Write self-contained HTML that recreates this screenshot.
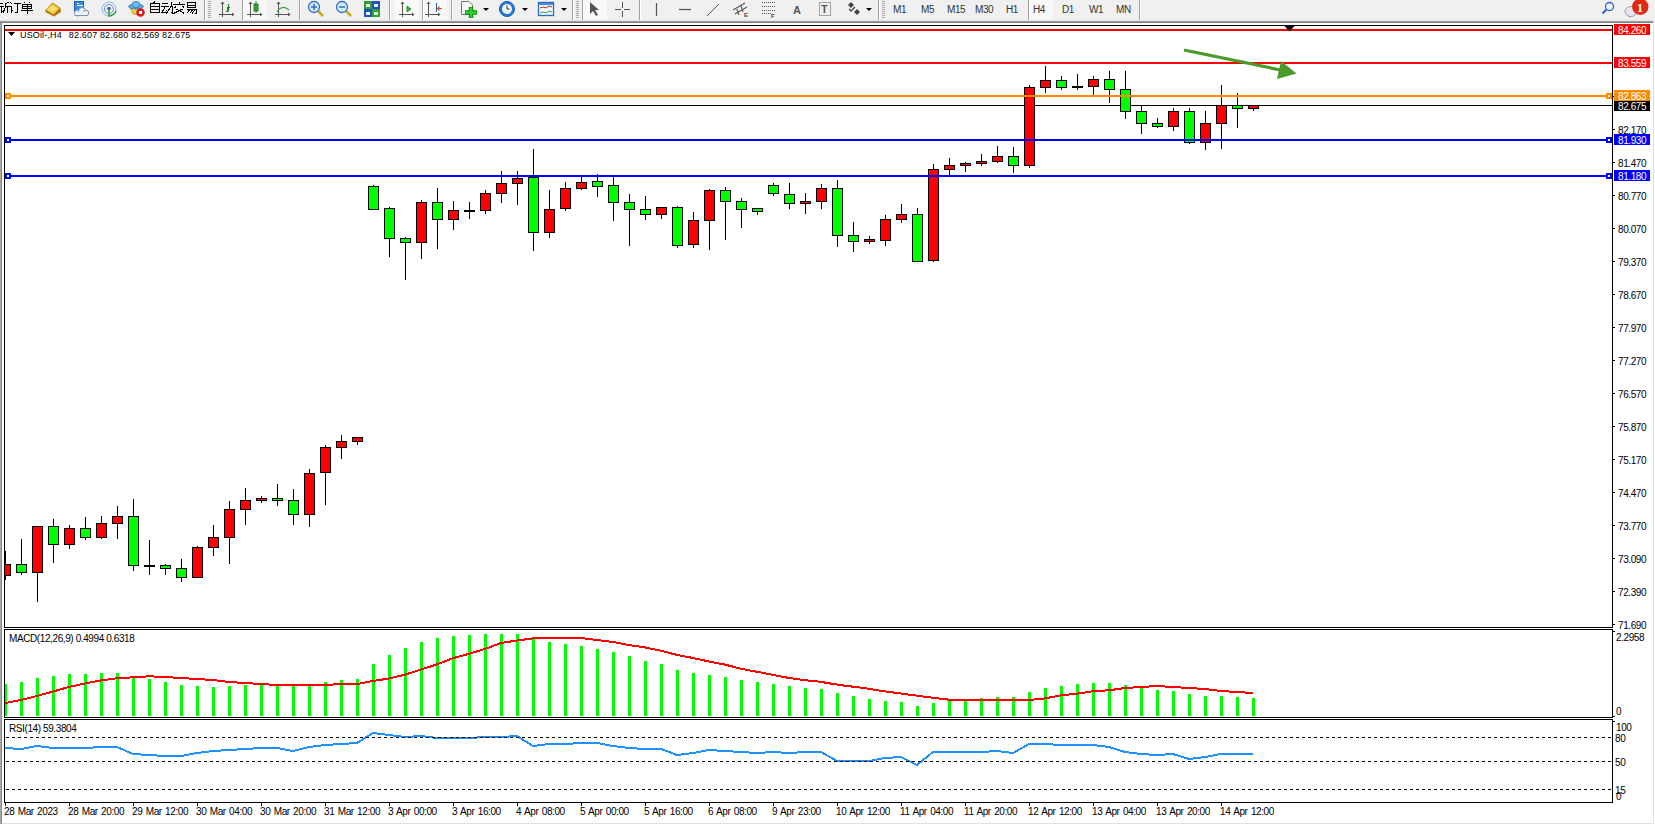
<!DOCTYPE html>
<html><head><meta charset="utf-8"><style>
html,body{margin:0;padding:0;width:1655px;height:825px;overflow:hidden;background:#fff;}
#tb{position:absolute;left:0;top:0;width:1655px;height:21px;background:#f0f0f0;}
svg{position:absolute;left:0;top:0;}
.t{position:absolute;white-space:nowrap;font-family:'Liberation Sans',sans-serif;line-height:11px;letter-spacing:-0.4px;}
</style></head><body>
<div id="tb"></div>
<svg width="1655" height="825" viewBox="0 0 1655 825">
<rect x="243" y="0" width="24" height="20" fill="#f8f8f8"/>
<rect x="394" y="0" width="25" height="20" fill="#f8f8f8"/>
<rect x="423" y="0" width="24" height="20" fill="#f8f8f8"/>
<rect x="583" y="0" width="24" height="20" fill="#f8f8f8"/>
<rect x="1029" y="0" width="24" height="20" fill="#f8f8f8"/>
<rect x="204" y="0" width="1" height="21" fill="#a0a0a0"/><rect x="205" y="0" width="1" height="20" fill="#ffffff"/>
<rect x="242" y="0" width="1" height="21" fill="#a0a0a0"/><rect x="243" y="0" width="1" height="20" fill="#ffffff"/>
<rect x="299" y="0" width="1" height="21" fill="#a0a0a0"/><rect x="300" y="0" width="1" height="20" fill="#ffffff"/>
<rect x="389" y="0" width="1" height="21" fill="#a0a0a0"/><rect x="390" y="0" width="1" height="20" fill="#ffffff"/>
<rect x="422" y="0" width="1" height="21" fill="#a0a0a0"/><rect x="423" y="0" width="1" height="20" fill="#ffffff"/>
<rect x="451" y="0" width="1" height="21" fill="#a0a0a0"/><rect x="452" y="0" width="1" height="20" fill="#ffffff"/>
<rect x="572" y="0" width="1" height="21" fill="#a0a0a0"/><rect x="573" y="0" width="1" height="20" fill="#ffffff"/>
<rect x="582" y="0" width="1" height="21" fill="#a0a0a0"/><rect x="583" y="0" width="1" height="20" fill="#ffffff"/>
<rect x="639" y="0" width="1" height="21" fill="#a0a0a0"/><rect x="640" y="0" width="1" height="20" fill="#ffffff"/>
<rect x="878" y="0" width="1" height="21" fill="#a0a0a0"/><rect x="879" y="0" width="1" height="20" fill="#ffffff"/>
<rect x="1028" y="0" width="1" height="21" fill="#a0a0a0"/><rect x="1029" y="0" width="1" height="20" fill="#ffffff"/>
<rect x="1139" y="0" width="1" height="21" fill="#a0a0a0"/><rect x="1140" y="0" width="1" height="20" fill="#ffffff"/>
<rect x="208" y="1" width="3" height="1" fill="#a8a8a8"/>
<rect x="208" y="3" width="3" height="1" fill="#a8a8a8"/>
<rect x="208" y="5" width="3" height="1" fill="#a8a8a8"/>
<rect x="208" y="7" width="3" height="1" fill="#a8a8a8"/>
<rect x="208" y="9" width="3" height="1" fill="#a8a8a8"/>
<rect x="208" y="11" width="3" height="1" fill="#a8a8a8"/>
<rect x="208" y="13" width="3" height="1" fill="#a8a8a8"/>
<rect x="208" y="15" width="3" height="1" fill="#a8a8a8"/>
<rect x="208" y="17" width="3" height="1" fill="#a8a8a8"/>
<rect x="576" y="1" width="3" height="1" fill="#a8a8a8"/>
<rect x="576" y="3" width="3" height="1" fill="#a8a8a8"/>
<rect x="576" y="5" width="3" height="1" fill="#a8a8a8"/>
<rect x="576" y="7" width="3" height="1" fill="#a8a8a8"/>
<rect x="576" y="9" width="3" height="1" fill="#a8a8a8"/>
<rect x="576" y="11" width="3" height="1" fill="#a8a8a8"/>
<rect x="576" y="13" width="3" height="1" fill="#a8a8a8"/>
<rect x="576" y="15" width="3" height="1" fill="#a8a8a8"/>
<rect x="576" y="17" width="3" height="1" fill="#a8a8a8"/>
<rect x="882" y="1" width="3" height="1" fill="#a8a8a8"/>
<rect x="882" y="3" width="3" height="1" fill="#a8a8a8"/>
<rect x="882" y="5" width="3" height="1" fill="#a8a8a8"/>
<rect x="882" y="7" width="3" height="1" fill="#a8a8a8"/>
<rect x="882" y="9" width="3" height="1" fill="#a8a8a8"/>
<rect x="882" y="11" width="3" height="1" fill="#a8a8a8"/>
<rect x="882" y="13" width="3" height="1" fill="#a8a8a8"/>
<rect x="882" y="15" width="3" height="1" fill="#a8a8a8"/>
<rect x="882" y="17" width="3" height="1" fill="#a8a8a8"/>

<!-- gold book -->
<polygon points="45,10.5 52.5,2.5 60.5,8 61,12 54,16.5 46,12.5" fill="#b07818"/>
<polygon points="46,10 52.5,3.5 59.5,8.5 53.5,14.5" fill="#f0cc40"/>
<polygon points="48,10 52.5,5.5 57,8.5 53,12" fill="#f8e070"/>
<!-- cloud doc -->
<rect x="74.5" y="1.5" width="9" height="10" fill="#3090e8" stroke="#1a60b0" stroke-width="1"/>
<rect x="77" y="5" width="6" height="1" fill="#fff"/><rect x="77" y="3" width="2" height="1" fill="#fff"/>
<g fill="#eef2fa" stroke="#8090b0" stroke-width="1">
<circle cx="77.5" cy="13" r="3"/><circle cx="82" cy="11" r="3.5"/><circle cx="86" cy="13" r="2.8"/>
</g>
<rect x="75" y="12" width="12" height="3" fill="#eef2fa"/>
<path d="M74.5,15.5 H87.5" stroke="#8090b0" stroke-width="1"/>
<!-- radar -->
<circle cx="109" cy="9" r="7" fill="none" stroke="#90b0e0" stroke-width="1"/>
<circle cx="109" cy="9" r="4.5" fill="none" stroke="#6090d8" stroke-width="1"/>
<circle cx="109" cy="8.5" r="1.8" fill="#3060c0"/>
<path d="M109,9 V16 Q114,15.5 116,11" fill="none" stroke="#30a030" stroke-width="1.5"/>
<!-- hat with stop -->
<path d="M130.5,8 L141.5,8 L139,15 L133,14 Z" fill="#f0d040" stroke="#c09020" stroke-width="0.8"/>
<ellipse cx="136" cy="6.5" rx="7.5" ry="2.5" fill="#60a8e0" stroke="#3a78b0" stroke-width="0.8"/>
<ellipse cx="136" cy="4.5" rx="4" ry="3" fill="#70b8f0" stroke="#3a78b0" stroke-width="0.8"/>
<circle cx="140.5" cy="12.5" r="4.3" fill="#d82020"/>
<rect x="139" y="11" width="3" height="3" fill="#fff"/>
<!-- bar chart icon -->
<g stroke="#555" stroke-width="1" fill="none" shape-rendering="crispEdges">
<path d="M222.5,3 V17 M219,14.5 H234"/>
<path d="M227.5,11.5 V7 H230"/>
</g>
<path d="M226,11.5 H228 M228.5,4 V11.5" stroke="#1a8a1a" stroke-width="1.2" fill="none"/>
<!-- candle icon -->
<g stroke="#555" stroke-width="1" fill="none" shape-rendering="crispEdges">
<path d="M250.5,3 V17 M247,14.5 H262"/>
</g>
<rect x="254" y="4" width="4" height="7" fill="#30c030" stroke="#208020" stroke-width="1"/>
<path d="M256,1 V13" stroke="#208020" stroke-width="1"/>
<!-- line chart icon -->
<g stroke="#555" stroke-width="1" fill="none" shape-rendering="crispEdges">
<path d="M278.5,3 V17 M275,14.5 H290"/>
</g>
<path d="M277,12 Q282,4 289,10" stroke="#30a030" stroke-width="1.2" fill="none"/>
<!-- zoom in -->
<line x1="318" y1="11" x2="323" y2="16" stroke="#c8a820" stroke-width="2.5"/>
<circle cx="314" cy="7" r="5.5" fill="#d8ecfa" stroke="#2a6ac8" stroke-width="1.3"/>
<path d="M311,7 H317 M314,4 V10" stroke="#2a6ac8" stroke-width="1.5"/>
<!-- zoom out -->
<line x1="346" y1="11" x2="351" y2="16" stroke="#c8a820" stroke-width="2.5"/>
<circle cx="342" cy="7" r="5.5" fill="#d8ecfa" stroke="#2a6ac8" stroke-width="1.3"/>
<path d="M339,7 H345" stroke="#2a6ac8" stroke-width="1.5"/>
<!-- tile -->
<rect x="364" y="1" width="8" height="8" fill="#30a030"/><rect x="372" y="1" width="8" height="8" fill="#2050c0"/>
<rect x="364" y="9" width="8" height="8" fill="#2050c0"/><rect x="372" y="9" width="8" height="8" fill="#30a030"/>
<g fill="#e8f0e8"><rect x="366" y="4" width="4" height="3"/><rect x="374" y="4" width="4" height="3"/><rect x="366" y="12" width="4" height="3"/><rect x="374" y="12" width="4" height="3"/></g>
<g fill="#555">
<polygon points="220.5,4 222.5,1.5 224.5,4"/><polygon points="232,12.5 234.5,14.5 232,16.5"/>
<polygon points="248.5,4 250.5,1.5 252.5,4"/><polygon points="260,12.5 262.5,14.5 260,16.5"/>
<polygon points="276.5,4 278.5,1.5 280.5,4"/><polygon points="288,12.5 290.5,14.5 288,16.5"/>
<polygon points="400.5,4 402.5,1.5 404.5,4"/><polygon points="412,12.5 414.5,14.5 412,16.5"/>
<polygon points="426.5,4 428.5,1.5 430.5,4"/><polygon points="438,12.5 440.5,14.5 438,16.5"/>
</g>
<!-- autoscroll -->
<g stroke="#555" stroke-width="1" fill="none" shape-rendering="crispEdges">
<path d="M402.5,3 V17 M399,14.5 H414"/>
<path d="M428.5,3 V17 M425,14.5 H440"/>
</g>
<polygon points="407,6 411,9 407,12" fill="#30b030" stroke="#1a8a1a" stroke-width="0.8"/>
<path d="M436.5,3 V12" stroke="#2060b0" stroke-width="1"/>
<path d="M442,8.5 H438 M439.5,6.5 L437.5,8.5 L439.5,10.5" stroke="#e05010" stroke-width="1.2" fill="none"/>
<!-- template + plus -->
<path d="M461.5,1.5 H469 L472.5,5 V14.5 H461.5 Z" fill="#f8f8f8" stroke="#777" stroke-width="1"/>
<path d="M465,12.5 H477 M471,7 V18" stroke="#108010" stroke-width="4.5"/>
<path d="M465.5,12.5 H476.5 M471,7.5 V17.5" stroke="#30d030" stroke-width="2.5"/>
<polygon points="483,8 489,8 486,11" fill="#000"/>
<!-- clock -->
<circle cx="507" cy="9" r="7.5" fill="#2a7ad8" stroke="#1a5ab0" stroke-width="1"/>
<circle cx="507" cy="9" r="5" fill="#f4f8ff"/>
<path d="M507,5.5 V9 H509.5" stroke="#333" stroke-width="1" fill="none"/>
<polygon points="522,8 528,8 525,11" fill="#000"/>
<!-- indicators window -->
<rect x="538.5" y="2.5" width="15" height="13" fill="#f4f8ff" stroke="#2a6ac8" stroke-width="1.3"/>
<rect x="539" y="3" width="14" height="2" fill="#4a8ae0"/>
<path d="M540,8 L543,7 L546,8 L549,6 L552,7" stroke="#b03020" stroke-width="1" fill="none"/>
<path d="M540,13 L543,12 L546,13 L549,11 L552,12" stroke="#30a030" stroke-width="1" fill="none"/>
<polygon points="561,8 567,8 564,11" fill="#000"/>
<!-- cursor -->
<polygon points="590,2 590,14 593,11 596,16 598,15 595,10 599,10" fill="#555"/>
<!-- crosshair -->
<path d="M622.5,2 V17 M615,9.5 H630" stroke="#555" stroke-width="1" shape-rendering="crispEdges"/>
<rect x="621" y="8" width="3" height="3" fill="#f0f0f0"/>
<!-- vertical line -->
<path d="M656.5,3 V16" stroke="#555" stroke-width="1.2"/>
<!-- horizontal line -->
<path d="M679,9.5 H691" stroke="#555" stroke-width="1.2"/>
<!-- trendline -->
<path d="M707,16 L719,4" stroke="#555" stroke-width="1"/>
<!-- channel -->
<path d="M733,10 L745,3 M735,14 L747,7 M737,9 L739,15 M741,6 L743,12" stroke="#555" stroke-width="1.1" fill="none"/>
<text x="744" y="17" font-size="6" font-family="Liberation Sans" font-weight="bold" fill="#444">E</text>
<!-- fibo -->
<g fill="#555"><rect x="762" y="2" width="13" height="1"/><rect x="762" y="6" width="13" height="1"/><rect x="762" y="10" width="13" height="1"/><rect x="762" y="13" width="9" height="1"/></g>
<g fill="#f0f0f0"><rect x="763" y="2" width="1" height="12"/><rect x="765" y="2" width="1" height="12"/><rect x="767" y="2" width="1" height="12"/><rect x="769" y="2" width="1" height="12"/><rect x="771" y="2" width="1" height="12"/><rect x="773" y="2" width="1" height="12"/></g>
<text x="771" y="18" font-size="6" font-family="Liberation Sans" font-weight="bold" fill="#444">F</text>
<!-- A -->
<text x="793" y="14" font-size="11" font-family="Liberation Sans" font-weight="bold" fill="#555">A</text>
<!-- T label -->
<rect x="819.5" y="2.5" width="11" height="13" fill="none" stroke="#555" stroke-width="1" stroke-dasharray="1,1"/>
<text x="821" y="13" font-size="11" font-family="Liberation Sans" font-weight="bold" fill="#555">T</text>
<!-- arrows -->
<polygon points="848,5 851,2 854,5 851,8" fill="#444"/>
<path d="M849,9 L851,11 L855,7" stroke="#444" stroke-width="1.3" fill="none"/>
<polygon points="854,12 857,9 860,12 857,15" fill="#444"/>
<polygon points="866,8 872,8 869,11" fill="#000"/>
<!-- search -->
<circle cx="1609.5" cy="6.5" r="4" fill="#f4f6ff" stroke="#2a60d0" stroke-width="1.3"/>
<line x1="1606.5" y1="9.5" x2="1602.5" y2="13.5" stroke="#2a60d0" stroke-width="2"/>
<!-- chat + badge -->
<ellipse cx="1631" cy="11.5" rx="6" ry="5" fill="#e4e4ec" stroke="#a0a0a0" stroke-width="1"/>
<path d="M1629,16 L1629,18 L1632,16" fill="#a0a0a0"/>
<circle cx="1640.3" cy="6.7" r="8.2" fill="#e02a10"/>
<text x="1637" y="11.5" font-size="12" font-family="Liberation Serif" font-weight="bold" fill="#fff">1</text>


<g stroke="#000" stroke-width="1" fill="none" shape-rendering="crispEdges">
<!-- xin (clipped) -->
<path d="M0,3.5 H3 M0,6.5 H3.5 M1.5,6.5 V13 M4.5,9 L2.5,12"/>
<path d="M9,2 L5,4 V8 L3,13 M5,6.5 H10 M7.5,6.5 V13"/>
<!-- ding -->
<path d="M10.5,2 L11.5,4 M9,6.5 H11.5 V12 L13,10"/>
<path d="M13.5,3.5 H21 M17.5,3.5 V12.5 H14.5"/>
<!-- dan -->
<path d="M24,2 L25,3 M30,2 L29,3"/>
<path d="M22.5,4.5 H31.5 V8.5 H22.5 Z M22.5,6.5 H31.5 M21,10.5 H33 M27,4 V13.5"/>
<!-- zi -->
<path d="M154.5,1.5 L153.5,3.5 M150.5,3.5 H159.5 V12.5 H150.5 Z M150.5,6.5 H159.5 M150.5,9.5 H159.5"/>
<!-- dong -->
<path d="M162,3.5 H168 M161,6.5 H169 M165,7 L162,12.5 H168 M166.5,10 L168,12.5"/>
<path d="M169.5,6.5 H172.5 V13 L171.5,12.5 M171,2 V7 L166,13.5"/>
<!-- jiao -->
<path d="M179.5,1.5 V3.5 M173,4.5 H185 M176,6 L174.5,8.5 M182.5,6 L184.5,8.5 M176,9 L184.5,13.5 M182.5,9 L173.5,13.5"/>
<!-- yi -->
<path d="M187.5,2.5 H195.5 V7.5 H187.5 Z M187.5,5 H195.5 M187,9.5 H196 V13.5 H195 M189.5,10 L187,13 M192.5,10 L189.5,13.5 M195,10 L192,13.5"/>
</g>

<rect x="0" y="21" width="1655" height="804" fill="#ffffff"/>
<rect x="0" y="20" width="1654" height="1" fill="#e2e2e2"/>
<rect x="0" y="21" width="1653" height="1" fill="#a4a4a4"/><rect x="1653" y="21" width="2" height="2" fill="#f0f0f0"/>
<rect x="0" y="22" width="1653" height="1" fill="#7a7a7a"/>
<rect x="0" y="23" width="1" height="801" fill="#a8a8a8"/>
<rect x="1" y="23" width="1" height="801" fill="#888888"/>
<rect x="1653" y="23" width="1" height="801" fill="#e0e0e0"/>
<rect x="2" y="823" width="1652" height="1" fill="#e0e0e0"/>
<defs><clipPath id="cm"><rect x="5" y="26" width="1607" height="601"/></clipPath><clipPath id="cmacd"><rect x="5" y="630" width="1607" height="87"/></clipPath><clipPath id="crsi"><rect x="5" y="720" width="1607" height="82"/></clipPath></defs>
<g shape-rendering="crispEdges" fill="#000">
<rect x="4" y="25" width="1609" height="1"/>
<rect x="4" y="25" width="1" height="603"/>
<rect x="1612" y="25" width="1" height="603"/>
<rect x="4" y="627" width="1609" height="1"/>
<rect x="4" y="629" width="1609" height="1"/>
<rect x="4" y="629" width="1" height="89"/>
<rect x="1612" y="629" width="1" height="89"/>
<rect x="4" y="717" width="1609" height="1"/>
<rect x="4" y="719" width="1609" height="1"/>
<rect x="4" y="719" width="1" height="84"/>
<rect x="1612" y="719" width="1" height="84"/>
<rect x="4" y="802" width="1609" height="1"/>
</g>
<rect x="5" y="105" width="1607" height="1" fill="#000" shape-rendering="crispEdges"/>
<g clip-path="url(#cm)" shape-rendering="crispEdges">
<rect x="5" y="551" width="1" height="13" fill="#000"/>
<rect x="5" y="576" width="1" height="4" fill="#000"/>
<rect x="0" y="564" width="11" height="12" fill="#000"/>
<rect x="1" y="565" width="9" height="10" fill="#ff0000"/>
<rect x="21" y="539" width="1" height="25" fill="#000"/>
<rect x="21" y="573" width="1" height="2" fill="#000"/>
<rect x="16" y="564" width="11" height="9" fill="#000"/>
<rect x="17" y="565" width="9" height="7" fill="#00ff00"/>
<rect x="37" y="573" width="1" height="29" fill="#000"/>
<rect x="32" y="526" width="11" height="47" fill="#000"/>
<rect x="33" y="527" width="9" height="45" fill="#ff0000"/>
<rect x="53" y="519" width="1" height="7" fill="#000"/>
<rect x="53" y="545" width="1" height="18" fill="#000"/>
<rect x="48" y="526" width="11" height="19" fill="#000"/>
<rect x="49" y="527" width="9" height="17" fill="#00ff00"/>
<rect x="69" y="525" width="1" height="3" fill="#000"/>
<rect x="69" y="545" width="1" height="4" fill="#000"/>
<rect x="64" y="528" width="11" height="17" fill="#000"/>
<rect x="65" y="529" width="9" height="15" fill="#ff0000"/>
<rect x="85" y="517" width="1" height="11" fill="#000"/>
<rect x="85" y="538" width="1" height="2" fill="#000"/>
<rect x="80" y="528" width="11" height="10" fill="#000"/>
<rect x="81" y="529" width="9" height="8" fill="#00ff00"/>
<rect x="101" y="516" width="1" height="7" fill="#000"/>
<rect x="101" y="538" width="1" height="1" fill="#000"/>
<rect x="96" y="523" width="11" height="15" fill="#000"/>
<rect x="97" y="524" width="9" height="13" fill="#ff0000"/>
<rect x="117" y="506" width="1" height="10" fill="#000"/>
<rect x="117" y="524" width="1" height="15" fill="#000"/>
<rect x="112" y="516" width="11" height="8" fill="#000"/>
<rect x="113" y="517" width="9" height="6" fill="#ff0000"/>
<rect x="133" y="499" width="1" height="17" fill="#000"/>
<rect x="133" y="566" width="1" height="5" fill="#000"/>
<rect x="128" y="516" width="11" height="50" fill="#000"/>
<rect x="129" y="517" width="9" height="48" fill="#00ff00"/>
<rect x="149" y="540" width="1" height="25" fill="#000"/>
<rect x="149" y="567" width="1" height="8" fill="#000"/>
<rect x="144" y="565" width="11" height="2" fill="#000"/>
<rect x="165" y="564" width="1" height="1" fill="#000"/>
<rect x="165" y="569" width="1" height="6" fill="#000"/>
<rect x="160" y="565" width="11" height="4" fill="#000"/>
<rect x="161" y="566" width="9" height="2" fill="#00ff00"/>
<rect x="181" y="559" width="1" height="9" fill="#000"/>
<rect x="181" y="578" width="1" height="4" fill="#000"/>
<rect x="176" y="568" width="11" height="10" fill="#000"/>
<rect x="177" y="569" width="9" height="8" fill="#00ff00"/>
<rect x="197" y="546" width="1" height="1" fill="#000"/>
<rect x="192" y="547" width="11" height="31" fill="#000"/>
<rect x="193" y="548" width="9" height="29" fill="#ff0000"/>
<rect x="213" y="525" width="1" height="12" fill="#000"/>
<rect x="213" y="548" width="1" height="8" fill="#000"/>
<rect x="208" y="537" width="11" height="11" fill="#000"/>
<rect x="209" y="538" width="9" height="9" fill="#ff0000"/>
<rect x="229" y="501" width="1" height="8" fill="#000"/>
<rect x="229" y="538" width="1" height="26" fill="#000"/>
<rect x="224" y="509" width="11" height="29" fill="#000"/>
<rect x="225" y="510" width="9" height="27" fill="#ff0000"/>
<rect x="245" y="488" width="1" height="12" fill="#000"/>
<rect x="245" y="510" width="1" height="15" fill="#000"/>
<rect x="240" y="500" width="11" height="10" fill="#000"/>
<rect x="241" y="501" width="9" height="8" fill="#ff0000"/>
<rect x="261" y="496" width="1" height="2" fill="#000"/>
<rect x="261" y="501" width="1" height="2" fill="#000"/>
<rect x="256" y="498" width="11" height="3" fill="#000"/>
<rect x="257" y="499" width="9" height="1" fill="#ff0000"/>
<rect x="277" y="484" width="1" height="14" fill="#000"/>
<rect x="277" y="501" width="1" height="5" fill="#000"/>
<rect x="272" y="498" width="11" height="3" fill="#000"/>
<rect x="273" y="499" width="9" height="1" fill="#00ff00"/>
<rect x="293" y="489" width="1" height="11" fill="#000"/>
<rect x="293" y="515" width="1" height="10" fill="#000"/>
<rect x="288" y="500" width="11" height="15" fill="#000"/>
<rect x="289" y="501" width="9" height="13" fill="#00ff00"/>
<rect x="309" y="469" width="1" height="4" fill="#000"/>
<rect x="309" y="515" width="1" height="12" fill="#000"/>
<rect x="304" y="473" width="11" height="42" fill="#000"/>
<rect x="305" y="474" width="9" height="40" fill="#ff0000"/>
<rect x="325" y="445" width="1" height="2" fill="#000"/>
<rect x="325" y="473" width="1" height="32" fill="#000"/>
<rect x="320" y="447" width="11" height="26" fill="#000"/>
<rect x="321" y="448" width="9" height="24" fill="#ff0000"/>
<rect x="341" y="435" width="1" height="6" fill="#000"/>
<rect x="341" y="448" width="1" height="11" fill="#000"/>
<rect x="336" y="441" width="11" height="7" fill="#000"/>
<rect x="337" y="442" width="9" height="5" fill="#ff0000"/>
<rect x="357" y="442" width="1" height="3" fill="#000"/>
<rect x="352" y="437" width="11" height="5" fill="#000"/>
<rect x="353" y="438" width="9" height="3" fill="#ff0000"/>
<rect x="373" y="185" width="1" height="1" fill="#000"/>
<rect x="368" y="186" width="11" height="24" fill="#000"/>
<rect x="369" y="187" width="9" height="22" fill="#00ff00"/>
<rect x="389" y="207" width="1" height="1" fill="#000"/>
<rect x="389" y="239" width="1" height="18" fill="#000"/>
<rect x="384" y="208" width="11" height="31" fill="#000"/>
<rect x="385" y="209" width="9" height="29" fill="#00ff00"/>
<rect x="405" y="237" width="1" height="1" fill="#000"/>
<rect x="405" y="243" width="1" height="37" fill="#000"/>
<rect x="400" y="238" width="11" height="5" fill="#000"/>
<rect x="401" y="239" width="9" height="3" fill="#00ff00"/>
<rect x="421" y="200" width="1" height="2" fill="#000"/>
<rect x="421" y="243" width="1" height="16" fill="#000"/>
<rect x="416" y="202" width="11" height="41" fill="#000"/>
<rect x="417" y="203" width="9" height="39" fill="#ff0000"/>
<rect x="437" y="188" width="1" height="14" fill="#000"/>
<rect x="437" y="220" width="1" height="29" fill="#000"/>
<rect x="432" y="202" width="11" height="18" fill="#000"/>
<rect x="433" y="203" width="9" height="16" fill="#00ff00"/>
<rect x="453" y="201" width="1" height="9" fill="#000"/>
<rect x="453" y="220" width="1" height="10" fill="#000"/>
<rect x="448" y="210" width="11" height="10" fill="#000"/>
<rect x="449" y="211" width="9" height="8" fill="#ff0000"/>
<rect x="469" y="202" width="1" height="8" fill="#000"/>
<rect x="469" y="212" width="1" height="7" fill="#000"/>
<rect x="464" y="210" width="11" height="2" fill="#000"/>
<rect x="485" y="190" width="1" height="3" fill="#000"/>
<rect x="485" y="211" width="1" height="3" fill="#000"/>
<rect x="480" y="193" width="11" height="18" fill="#000"/>
<rect x="481" y="194" width="9" height="16" fill="#ff0000"/>
<rect x="501" y="171" width="1" height="12" fill="#000"/>
<rect x="501" y="194" width="1" height="9" fill="#000"/>
<rect x="496" y="183" width="11" height="11" fill="#000"/>
<rect x="497" y="184" width="9" height="9" fill="#ff0000"/>
<rect x="517" y="171" width="1" height="7" fill="#000"/>
<rect x="517" y="184" width="1" height="21" fill="#000"/>
<rect x="512" y="178" width="11" height="6" fill="#000"/>
<rect x="513" y="179" width="9" height="4" fill="#ff0000"/>
<rect x="533" y="149" width="1" height="28" fill="#000"/>
<rect x="533" y="233" width="1" height="18" fill="#000"/>
<rect x="528" y="177" width="11" height="56" fill="#000"/>
<rect x="529" y="178" width="9" height="54" fill="#00ff00"/>
<rect x="549" y="190" width="1" height="19" fill="#000"/>
<rect x="549" y="233" width="1" height="5" fill="#000"/>
<rect x="544" y="209" width="11" height="24" fill="#000"/>
<rect x="545" y="210" width="9" height="22" fill="#ff0000"/>
<rect x="565" y="182" width="1" height="6" fill="#000"/>
<rect x="565" y="209" width="1" height="2" fill="#000"/>
<rect x="560" y="188" width="11" height="21" fill="#000"/>
<rect x="561" y="189" width="9" height="19" fill="#ff0000"/>
<rect x="581" y="177" width="1" height="5" fill="#000"/>
<rect x="581" y="189" width="1" height="1" fill="#000"/>
<rect x="576" y="182" width="11" height="7" fill="#000"/>
<rect x="577" y="183" width="9" height="5" fill="#ff0000"/>
<rect x="597" y="174" width="1" height="7" fill="#000"/>
<rect x="597" y="187" width="1" height="10" fill="#000"/>
<rect x="592" y="181" width="11" height="6" fill="#000"/>
<rect x="593" y="182" width="9" height="4" fill="#00ff00"/>
<rect x="613" y="177" width="1" height="8" fill="#000"/>
<rect x="613" y="203" width="1" height="18" fill="#000"/>
<rect x="608" y="185" width="11" height="18" fill="#000"/>
<rect x="609" y="186" width="9" height="16" fill="#00ff00"/>
<rect x="629" y="194" width="1" height="8" fill="#000"/>
<rect x="629" y="210" width="1" height="36" fill="#000"/>
<rect x="624" y="202" width="11" height="8" fill="#000"/>
<rect x="625" y="203" width="9" height="6" fill="#00ff00"/>
<rect x="645" y="196" width="1" height="13" fill="#000"/>
<rect x="645" y="215" width="1" height="5" fill="#000"/>
<rect x="640" y="209" width="11" height="6" fill="#000"/>
<rect x="641" y="210" width="9" height="4" fill="#00ff00"/>
<rect x="661" y="215" width="1" height="4" fill="#000"/>
<rect x="656" y="207" width="11" height="8" fill="#000"/>
<rect x="657" y="208" width="9" height="6" fill="#ff0000"/>
<rect x="677" y="206" width="1" height="1" fill="#000"/>
<rect x="677" y="246" width="1" height="2" fill="#000"/>
<rect x="672" y="207" width="11" height="39" fill="#000"/>
<rect x="673" y="208" width="9" height="37" fill="#00ff00"/>
<rect x="693" y="212" width="1" height="8" fill="#000"/>
<rect x="693" y="245" width="1" height="3" fill="#000"/>
<rect x="688" y="220" width="11" height="25" fill="#000"/>
<rect x="689" y="221" width="9" height="23" fill="#ff0000"/>
<rect x="709" y="189" width="1" height="1" fill="#000"/>
<rect x="709" y="221" width="1" height="29" fill="#000"/>
<rect x="704" y="190" width="11" height="31" fill="#000"/>
<rect x="705" y="191" width="9" height="29" fill="#ff0000"/>
<rect x="725" y="187" width="1" height="3" fill="#000"/>
<rect x="725" y="202" width="1" height="38" fill="#000"/>
<rect x="720" y="190" width="11" height="12" fill="#000"/>
<rect x="721" y="191" width="9" height="10" fill="#00ff00"/>
<rect x="741" y="198" width="1" height="3" fill="#000"/>
<rect x="741" y="210" width="1" height="18" fill="#000"/>
<rect x="736" y="201" width="11" height="9" fill="#000"/>
<rect x="737" y="202" width="9" height="7" fill="#00ff00"/>
<rect x="757" y="212" width="1" height="3" fill="#000"/>
<rect x="752" y="208" width="11" height="4" fill="#000"/>
<rect x="753" y="209" width="9" height="2" fill="#00ff00"/>
<rect x="773" y="183" width="1" height="2" fill="#000"/>
<rect x="773" y="194" width="1" height="2" fill="#000"/>
<rect x="768" y="185" width="11" height="9" fill="#000"/>
<rect x="769" y="186" width="9" height="7" fill="#00ff00"/>
<rect x="789" y="183" width="1" height="11" fill="#000"/>
<rect x="789" y="204" width="1" height="5" fill="#000"/>
<rect x="784" y="194" width="11" height="10" fill="#000"/>
<rect x="785" y="195" width="9" height="8" fill="#00ff00"/>
<rect x="805" y="193" width="1" height="8" fill="#000"/>
<rect x="805" y="204" width="1" height="10" fill="#000"/>
<rect x="800" y="201" width="11" height="3" fill="#000"/>
<rect x="801" y="202" width="9" height="1" fill="#ff0000"/>
<rect x="821" y="184" width="1" height="4" fill="#000"/>
<rect x="821" y="202" width="1" height="7" fill="#000"/>
<rect x="816" y="188" width="11" height="14" fill="#000"/>
<rect x="817" y="189" width="9" height="12" fill="#ff0000"/>
<rect x="837" y="180" width="1" height="8" fill="#000"/>
<rect x="837" y="236" width="1" height="11" fill="#000"/>
<rect x="832" y="188" width="11" height="48" fill="#000"/>
<rect x="833" y="189" width="9" height="46" fill="#00ff00"/>
<rect x="853" y="222" width="1" height="13" fill="#000"/>
<rect x="853" y="242" width="1" height="10" fill="#000"/>
<rect x="848" y="235" width="11" height="7" fill="#000"/>
<rect x="849" y="236" width="9" height="5" fill="#00ff00"/>
<rect x="869" y="236" width="1" height="3" fill="#000"/>
<rect x="869" y="242" width="1" height="2" fill="#000"/>
<rect x="864" y="239" width="11" height="3" fill="#000"/>
<rect x="865" y="240" width="9" height="1" fill="#ff0000"/>
<rect x="885" y="215" width="1" height="4" fill="#000"/>
<rect x="885" y="241" width="1" height="5" fill="#000"/>
<rect x="880" y="219" width="11" height="22" fill="#000"/>
<rect x="881" y="220" width="9" height="20" fill="#ff0000"/>
<rect x="901" y="204" width="1" height="10" fill="#000"/>
<rect x="901" y="220" width="1" height="3" fill="#000"/>
<rect x="896" y="214" width="11" height="6" fill="#000"/>
<rect x="897" y="215" width="9" height="4" fill="#ff0000"/>
<rect x="917" y="208" width="1" height="6" fill="#000"/>
<rect x="912" y="214" width="11" height="48" fill="#000"/>
<rect x="913" y="215" width="9" height="46" fill="#00ff00"/>
<rect x="933" y="164" width="1" height="5" fill="#000"/>
<rect x="933" y="261" width="1" height="1" fill="#000"/>
<rect x="928" y="169" width="11" height="92" fill="#000"/>
<rect x="929" y="170" width="9" height="90" fill="#ff0000"/>
<rect x="949" y="158" width="1" height="7" fill="#000"/>
<rect x="949" y="170" width="1" height="6" fill="#000"/>
<rect x="944" y="165" width="11" height="5" fill="#000"/>
<rect x="945" y="166" width="9" height="3" fill="#ff0000"/>
<rect x="965" y="162" width="1" height="1" fill="#000"/>
<rect x="965" y="166" width="1" height="6" fill="#000"/>
<rect x="960" y="163" width="11" height="3" fill="#000"/>
<rect x="961" y="164" width="9" height="1" fill="#ff0000"/>
<rect x="981" y="154" width="1" height="7" fill="#000"/>
<rect x="981" y="164" width="1" height="2" fill="#000"/>
<rect x="976" y="161" width="11" height="3" fill="#000"/>
<rect x="977" y="162" width="9" height="1" fill="#ff0000"/>
<rect x="997" y="146" width="1" height="10" fill="#000"/>
<rect x="997" y="162" width="1" height="1" fill="#000"/>
<rect x="992" y="156" width="11" height="6" fill="#000"/>
<rect x="993" y="157" width="9" height="4" fill="#ff0000"/>
<rect x="1013" y="147" width="1" height="9" fill="#000"/>
<rect x="1013" y="166" width="1" height="7" fill="#000"/>
<rect x="1008" y="156" width="11" height="10" fill="#000"/>
<rect x="1009" y="157" width="9" height="8" fill="#00ff00"/>
<rect x="1029" y="85" width="1" height="2" fill="#000"/>
<rect x="1029" y="166" width="1" height="2" fill="#000"/>
<rect x="1024" y="87" width="11" height="79" fill="#000"/>
<rect x="1025" y="88" width="9" height="77" fill="#ff0000"/>
<rect x="1045" y="66" width="1" height="14" fill="#000"/>
<rect x="1045" y="88" width="1" height="5" fill="#000"/>
<rect x="1040" y="80" width="11" height="8" fill="#000"/>
<rect x="1041" y="81" width="9" height="6" fill="#ff0000"/>
<rect x="1061" y="76" width="1" height="4" fill="#000"/>
<rect x="1061" y="88" width="1" height="2" fill="#000"/>
<rect x="1056" y="80" width="11" height="8" fill="#000"/>
<rect x="1057" y="81" width="9" height="6" fill="#00ff00"/>
<rect x="1077" y="74" width="1" height="12" fill="#000"/>
<rect x="1077" y="88" width="1" height="2" fill="#000"/>
<rect x="1072" y="86" width="11" height="2" fill="#000"/>
<rect x="1093" y="76" width="1" height="3" fill="#000"/>
<rect x="1093" y="87" width="1" height="8" fill="#000"/>
<rect x="1088" y="79" width="11" height="8" fill="#000"/>
<rect x="1089" y="80" width="9" height="6" fill="#ff0000"/>
<rect x="1109" y="71" width="1" height="8" fill="#000"/>
<rect x="1109" y="90" width="1" height="13" fill="#000"/>
<rect x="1104" y="79" width="11" height="11" fill="#000"/>
<rect x="1105" y="80" width="9" height="9" fill="#00ff00"/>
<rect x="1125" y="71" width="1" height="18" fill="#000"/>
<rect x="1125" y="112" width="1" height="7" fill="#000"/>
<rect x="1120" y="89" width="11" height="23" fill="#000"/>
<rect x="1121" y="90" width="9" height="21" fill="#00ff00"/>
<rect x="1141" y="105" width="1" height="6" fill="#000"/>
<rect x="1141" y="124" width="1" height="10" fill="#000"/>
<rect x="1136" y="111" width="11" height="13" fill="#000"/>
<rect x="1137" y="112" width="9" height="11" fill="#00ff00"/>
<rect x="1157" y="118" width="1" height="5" fill="#000"/>
<rect x="1157" y="127" width="1" height="1" fill="#000"/>
<rect x="1152" y="123" width="11" height="4" fill="#000"/>
<rect x="1153" y="124" width="9" height="2" fill="#00ff00"/>
<rect x="1173" y="108" width="1" height="3" fill="#000"/>
<rect x="1173" y="127" width="1" height="4" fill="#000"/>
<rect x="1168" y="111" width="11" height="16" fill="#000"/>
<rect x="1169" y="112" width="9" height="14" fill="#ff0000"/>
<rect x="1189" y="108" width="1" height="3" fill="#000"/>
<rect x="1189" y="143" width="1" height="1" fill="#000"/>
<rect x="1184" y="111" width="11" height="32" fill="#000"/>
<rect x="1185" y="112" width="9" height="30" fill="#00ff00"/>
<rect x="1205" y="111" width="1" height="12" fill="#000"/>
<rect x="1205" y="143" width="1" height="7" fill="#000"/>
<rect x="1200" y="123" width="11" height="20" fill="#000"/>
<rect x="1201" y="124" width="9" height="18" fill="#ff0000"/>
<rect x="1221" y="85" width="1" height="20" fill="#000"/>
<rect x="1221" y="124" width="1" height="25" fill="#000"/>
<rect x="1216" y="105" width="11" height="19" fill="#000"/>
<rect x="1217" y="106" width="9" height="17" fill="#ff0000"/>
<rect x="1237" y="93" width="1" height="12" fill="#000"/>
<rect x="1237" y="109" width="1" height="19" fill="#000"/>
<rect x="1232" y="105" width="11" height="4" fill="#000"/>
<rect x="1233" y="106" width="9" height="2" fill="#00ff00"/>
<rect x="1253" y="109" width="1" height="2" fill="#000"/>
<rect x="1248" y="105" width="11" height="4" fill="#000"/>
<rect x="1249" y="106" width="9" height="2" fill="#ff0000"/>
</g>
<g clip-path="url(#cm)" shape-rendering="crispEdges">
<rect x="5" y="29" width="1607" height="2" fill="#ff0000"/>
<rect x="5" y="62" width="1607" height="2" fill="#ff0000"/>
<rect x="5" y="95" width="1607" height="2" fill="#ff8c00"/>
<rect x="5" y="139" width="1607" height="2" fill="#0000ff"/>
<rect x="5" y="175" width="1607" height="2" fill="#0000ff"/>
<rect x="5" y="93" width="6" height="6" fill="#ff8c00"/><rect x="7" y="95" width="2" height="2" fill="#fff"/>
<rect x="1606" y="93" width="6" height="6" fill="#ff8c00"/><rect x="1608" y="95" width="2" height="2" fill="#fff"/>
<rect x="5" y="137" width="6" height="6" fill="#0000ff"/><rect x="7" y="139" width="2" height="2" fill="#fff"/>
<rect x="1606" y="137" width="6" height="6" fill="#0000ff"/><rect x="1608" y="139" width="2" height="2" fill="#fff"/>
<rect x="5" y="173" width="6" height="6" fill="#0000ff"/><rect x="7" y="175" width="2" height="2" fill="#fff"/>
<rect x="1606" y="173" width="6" height="6" fill="#0000ff"/><rect x="1608" y="175" width="2" height="2" fill="#fff"/>
</g>
<polygon points="8,32 15,32 11.5,36" fill="#000"/>
<polygon points="1284.5,26 1294.5,26 1289.5,31.5" fill="#000"/>
<g fill="#4a9a2c" stroke="none">
<line x1="1184" y1="50" x2="1283" y2="70.5" stroke="#4a9a2c" stroke-width="3.2"/>
<polygon points="1281,61 1296.5,73.5 1277,79"/>
</g>
<g clip-path="url(#cmacd)" shape-rendering="crispEdges" fill="#00ff00">
<rect x="4" y="684" width="3" height="32"/>
<rect x="20" y="682" width="3" height="34"/>
<rect x="36" y="678" width="3" height="38"/>
<rect x="52" y="676" width="3" height="40"/>
<rect x="68" y="674" width="3" height="42"/>
<rect x="84" y="674" width="3" height="42"/>
<rect x="100" y="673" width="3" height="43"/>
<rect x="116" y="673" width="3" height="43"/>
<rect x="132" y="676" width="3" height="40"/>
<rect x="148" y="679" width="3" height="37"/>
<rect x="164" y="682" width="3" height="34"/>
<rect x="180" y="685" width="3" height="31"/>
<rect x="196" y="686" width="3" height="30"/>
<rect x="212" y="687" width="3" height="29"/>
<rect x="228" y="686" width="3" height="30"/>
<rect x="244" y="685" width="3" height="31"/>
<rect x="260" y="684" width="3" height="32"/>
<rect x="276" y="685" width="3" height="31"/>
<rect x="292" y="686" width="3" height="30"/>
<rect x="308" y="686" width="3" height="30"/>
<rect x="324" y="682" width="3" height="34"/>
<rect x="340" y="680" width="3" height="36"/>
<rect x="356" y="679" width="3" height="37"/>
<rect x="372" y="664" width="3" height="52"/>
<rect x="388" y="655" width="3" height="61"/>
<rect x="404" y="648" width="3" height="68"/>
<rect x="420" y="642" width="3" height="74"/>
<rect x="436" y="638" width="3" height="78"/>
<rect x="452" y="636" width="3" height="80"/>
<rect x="468" y="635" width="3" height="81"/>
<rect x="484" y="634" width="3" height="82"/>
<rect x="500" y="634" width="3" height="82"/>
<rect x="516" y="634" width="3" height="82"/>
<rect x="532" y="638" width="3" height="78"/>
<rect x="548" y="642" width="3" height="74"/>
<rect x="564" y="644" width="3" height="72"/>
<rect x="580" y="646" width="3" height="70"/>
<rect x="596" y="649" width="3" height="67"/>
<rect x="612" y="652" width="3" height="64"/>
<rect x="628" y="656" width="3" height="60"/>
<rect x="644" y="661" width="3" height="55"/>
<rect x="660" y="664" width="3" height="52"/>
<rect x="676" y="670" width="3" height="46"/>
<rect x="692" y="673" width="3" height="43"/>
<rect x="708" y="675" width="3" height="41"/>
<rect x="724" y="677" width="3" height="39"/>
<rect x="740" y="680" width="3" height="36"/>
<rect x="756" y="682" width="3" height="34"/>
<rect x="772" y="684" width="3" height="32"/>
<rect x="788" y="686" width="3" height="30"/>
<rect x="804" y="688" width="3" height="28"/>
<rect x="820" y="689" width="3" height="27"/>
<rect x="836" y="693" width="3" height="23"/>
<rect x="852" y="696" width="3" height="20"/>
<rect x="868" y="699" width="3" height="17"/>
<rect x="884" y="701" width="3" height="15"/>
<rect x="900" y="702" width="3" height="14"/>
<rect x="916" y="706" width="3" height="10"/>
<rect x="932" y="703" width="3" height="13"/>
<rect x="948" y="701" width="3" height="15"/>
<rect x="964" y="700" width="3" height="16"/>
<rect x="980" y="698" width="3" height="18"/>
<rect x="996" y="697" width="3" height="19"/>
<rect x="1012" y="697" width="3" height="19"/>
<rect x="1028" y="692" width="3" height="24"/>
<rect x="1044" y="688" width="3" height="28"/>
<rect x="1060" y="686" width="3" height="30"/>
<rect x="1076" y="684" width="3" height="32"/>
<rect x="1092" y="683" width="3" height="33"/>
<rect x="1108" y="683" width="3" height="33"/>
<rect x="1124" y="685" width="3" height="31"/>
<rect x="1140" y="688" width="3" height="28"/>
<rect x="1156" y="690" width="3" height="26"/>
<rect x="1172" y="691" width="3" height="25"/>
<rect x="1188" y="694" width="3" height="22"/>
<rect x="1204" y="696" width="3" height="20"/>
<rect x="1220" y="696" width="3" height="20"/>
<rect x="1236" y="697" width="3" height="19"/>
<rect x="1252" y="698" width="3" height="18"/>
</g>
<polyline clip-path="url(#cmacd)" points="5,703 21,700 37,696 53,691.5 69,687 85,683.5 101,680.4 117,678.3 133,677.3 149,676.3 165,677 181,678 197,679 213,680 229,682 245,683 261,684 277,685 293,685 309,685 325,685 341,684 357,684 373,681 389,678.5 405,674.7 421,669.5 437,664.4 453,658.2 469,653.8 485,649 501,643 517,640.5 533,638.4 549,638 565,638 581,638 597,640 613,642 629,645 645,647.4 661,650.8 677,654.9 693,658 709,661.5 725,664.6 741,668.7 757,671.8 773,674.9 789,678 805,680.2 817,681.3 841,685.2 866,688.3 883,691.1 906,694.2 929,697.3 946,699.4 959,700.3 1029,700 1045,698.4 1061,695.3 1077,693.7 1093,691.2 1109,690.3 1125,688 1141,687 1157,686 1173,687 1189,688 1205,689 1221,691 1237,692 1253,693" fill="none" stroke="#ff0000" stroke-width="2" shape-rendering="crispEdges"/>
<polyline clip-path="url(#crsi)" points="5,748 21,749 37,746 53,748 69,748 85,748 101,747 117,747 133,754 149,755 165,756 181,756 197,753 213,751 229,750 245,749 261,748 277,748 293,751 309,747 325,745 341,744 357,743 373,733 389,735 405,737 421,736 437,738 453,738 469,738 485,737 501,737 517,736 533,746 549,744 565,744 581,743 597,743 613,746 629,748 645,749 661,749 677,755 693,753 709,750 725,751 741,752 757,753 773,752 789,753 805,752 821,752 837,761 853,761 869,761 885,758 901,757 917,765 933,752 949,752 965,752 981,752 997,751 1013,753 1029,744 1045,744 1061,745 1077,745 1093,745 1109,747 1125,752 1141,754 1157,755 1173,754 1189,759 1205,757 1221,754 1237,754 1253,754" fill="none" stroke="#1e90ff" stroke-width="2" shape-rendering="crispEdges"/>
<g shape-rendering="crispEdges">
<line x1="5" y1="737.5" x2="1612" y2="737.5" stroke="#000" stroke-width="1" stroke-dasharray="3,3" stroke-dashoffset="-1"/>
<line x1="5" y1="761.5" x2="1612" y2="761.5" stroke="#000" stroke-width="1" stroke-dasharray="3,3" stroke-dashoffset="-1"/>
<line x1="5" y1="789.5" x2="1612" y2="789.5" stroke="#000" stroke-width="1" stroke-dasharray="3,3" stroke-dashoffset="-1"/>
</g>
<g shape-rendering="crispEdges" fill="#000">
<rect x="1613" y="96" width="2" height="1"/>
<rect x="1613" y="129" width="2" height="1"/>
<rect x="1613" y="162" width="2" height="1"/>
<rect x="1613" y="195" width="2" height="1"/>
<rect x="1613" y="228" width="2" height="1"/>
<rect x="1613" y="261" width="2" height="1"/>
<rect x="1613" y="294" width="2" height="1"/>
<rect x="1613" y="327" width="2" height="1"/>
<rect x="1613" y="360" width="2" height="1"/>
<rect x="1613" y="393" width="2" height="1"/>
<rect x="1613" y="426" width="2" height="1"/>
<rect x="1613" y="459" width="2" height="1"/>
<rect x="1613" y="492" width="2" height="1"/>
<rect x="1613" y="525" width="2" height="1"/>
<rect x="1613" y="558" width="2" height="1"/>
<rect x="1613" y="591" width="2" height="1"/>
<rect x="1613" y="624" width="2" height="1"/>
<rect x="1613" y="631" width="2" height="1"/><rect x="1613" y="716" width="2" height="1"/><rect x="1613" y="721" width="2" height="1"/>
<rect x="5" y="803" width="1" height="3"/>
<rect x="69" y="803" width="1" height="3"/>
<rect x="133" y="803" width="1" height="3"/>
<rect x="197" y="803" width="1" height="3"/>
<rect x="261" y="803" width="1" height="3"/>
<rect x="325" y="803" width="1" height="3"/>
<rect x="389" y="803" width="1" height="3"/>
<rect x="453" y="803" width="1" height="3"/>
<rect x="517" y="803" width="1" height="3"/>
<rect x="581" y="803" width="1" height="3"/>
<rect x="645" y="803" width="1" height="3"/>
<rect x="709" y="803" width="1" height="3"/>
<rect x="773" y="803" width="1" height="3"/>
<rect x="837" y="803" width="1" height="3"/>
<rect x="901" y="803" width="1" height="3"/>
<rect x="965" y="803" width="1" height="3"/>
<rect x="1029" y="803" width="1" height="3"/>
<rect x="1093" y="803" width="1" height="3"/>
<rect x="1157" y="803" width="1" height="3"/>
<rect x="1221" y="803" width="1" height="3"/>
</g>
</svg>
<div class="t" style="left:1614px;top:24px;width:36px;height:11px;overflow:hidden;background:#ff0000;color:#fff;font-size:10px;line-height:11px;text-indent:4px"><span style="position:relative;top:1px">84.260</span></div><div class="t" style="left:1614px;top:57px;width:36px;height:11px;overflow:hidden;background:#ff0000;color:#fff;font-size:10px;line-height:11px;text-indent:4px"><span style="position:relative;top:1px">83.559</span></div><div class="t" style="left:1614px;top:90px;width:36px;height:11px;overflow:hidden;background:#ff8c00;color:#fff;font-size:10px;line-height:11px;text-indent:4px"><span style="position:relative;top:1px">82.863</span></div><div class="t" style="left:1614px;top:101px;width:36px;height:10px;overflow:hidden;background:#000000;color:#fff;font-size:10px;line-height:11px;text-indent:4px"><span style="position:relative;top:0px">82.675</span></div><div class="t" style="left:1614px;top:134px;width:36px;height:11px;overflow:hidden;background:#0000ff;color:#fff;font-size:10px;line-height:11px;text-indent:4px"><span style="position:relative;top:1px">81.930</span></div><div class="t" style="left:1614px;top:170px;width:36px;height:11px;overflow:hidden;background:#0000ff;color:#fff;font-size:10px;line-height:11px;text-indent:4px"><span style="position:relative;top:1px">81.180</span></div>
<div class="t" style="left:1618px;top:125px;font-size:10px;color:#000;">82.170</div><div class="t" style="left:1618px;top:158px;font-size:10px;color:#000;">81.470</div><div class="t" style="left:1618px;top:191px;font-size:10px;color:#000;">80.770</div><div class="t" style="left:1618px;top:224px;font-size:10px;color:#000;">80.070</div><div class="t" style="left:1618px;top:257px;font-size:10px;color:#000;">79.370</div><div class="t" style="left:1618px;top:290px;font-size:10px;color:#000;">78.670</div><div class="t" style="left:1618px;top:323px;font-size:10px;color:#000;">77.970</div><div class="t" style="left:1618px;top:356px;font-size:10px;color:#000;">77.270</div><div class="t" style="left:1618px;top:389px;font-size:10px;color:#000;">76.570</div><div class="t" style="left:1618px;top:422px;font-size:10px;color:#000;">75.870</div><div class="t" style="left:1618px;top:455px;font-size:10px;color:#000;">75.170</div><div class="t" style="left:1618px;top:488px;font-size:10px;color:#000;">74.470</div><div class="t" style="left:1618px;top:521px;font-size:10px;color:#000;">73.770</div><div class="t" style="left:1618px;top:554px;font-size:10px;color:#000;">73.090</div><div class="t" style="left:1618px;top:587px;font-size:10px;color:#000;">72.390</div><div class="t" style="left:1618px;top:620px;font-size:10px;color:#000;">71.690</div><div class="t" style="left:1616px;top:632px;font-size:10px;color:#000;">2.2958</div><div class="t" style="left:1616px;top:706px;font-size:10px;color:#000;">0</div><div class="t" style="left:1616px;top:722px;font-size:10px;color:#000;">100</div><div class="t" style="left:1615px;top:733px;font-size:10px;color:#000;">80</div><div class="t" style="left:1615px;top:757px;font-size:10px;color:#000;">50</div><div class="t" style="left:1615px;top:785px;font-size:10px;color:#000;">15</div><div class="t" style="left:1616px;top:791px;font-size:10px;color:#000;">0</div><div class="t" style="left:9px;top:633px;font-size:10px;color:#000;">MACD(12,26,9) 0.4994 0.6318</div><div class="t" style="left:9px;top:723px;font-size:10px;color:#000;">RSI(14) 59.3804</div><div class="t" style="left:20px;top:30px;font-size:9px;color:#000;letter-spacing:0.15px;">USOil-,H4<span style="display:inline-block;width:7px"></span>82.607 82.680 82.569 82.675</div><div class="t" style="left:4px;top:806px;font-size:10px;color:#000;word-spacing:1px;">28 Mar 2023</div><div class="t" style="left:68px;top:806px;font-size:10px;color:#000;word-spacing:1px;">28 Mar 20:00</div><div class="t" style="left:132px;top:806px;font-size:10px;color:#000;word-spacing:1px;">29 Mar 12:00</div><div class="t" style="left:196px;top:806px;font-size:10px;color:#000;word-spacing:1px;">30 Mar 04:00</div><div class="t" style="left:260px;top:806px;font-size:10px;color:#000;word-spacing:1px;">30 Mar 20:00</div><div class="t" style="left:324px;top:806px;font-size:10px;color:#000;word-spacing:1px;">31 Mar 12:00</div><div class="t" style="left:388px;top:806px;font-size:10px;color:#000;word-spacing:1px;">3 Apr 00:00</div><div class="t" style="left:452px;top:806px;font-size:10px;color:#000;word-spacing:1px;">3 Apr 16:00</div><div class="t" style="left:516px;top:806px;font-size:10px;color:#000;word-spacing:1px;">4 Apr 08:00</div><div class="t" style="left:580px;top:806px;font-size:10px;color:#000;word-spacing:1px;">5 Apr 00:00</div><div class="t" style="left:644px;top:806px;font-size:10px;color:#000;word-spacing:1px;">5 Apr 16:00</div><div class="t" style="left:708px;top:806px;font-size:10px;color:#000;word-spacing:1px;">6 Apr 08:00</div><div class="t" style="left:772px;top:806px;font-size:10px;color:#000;word-spacing:1px;">9 Apr 23:00</div><div class="t" style="left:836px;top:806px;font-size:10px;color:#000;word-spacing:1px;">10 Apr 12:00</div><div class="t" style="left:900px;top:806px;font-size:10px;color:#000;word-spacing:1px;">11 Apr 04:00</div><div class="t" style="left:964px;top:806px;font-size:10px;color:#000;word-spacing:1px;">11 Apr 20:00</div><div class="t" style="left:1028px;top:806px;font-size:10px;color:#000;word-spacing:1px;">12 Apr 12:00</div><div class="t" style="left:1092px;top:806px;font-size:10px;color:#000;word-spacing:1px;">13 Apr 04:00</div><div class="t" style="left:1156px;top:806px;font-size:10px;color:#000;word-spacing:1px;">13 Apr 20:00</div><div class="t" style="left:1220px;top:806px;font-size:10px;color:#000;word-spacing:1px;">14 Apr 12:00</div>
<div class="t" style="left:893px;top:4px;font-size:10px;color:#333">M1</div><div class="t" style="left:921px;top:4px;font-size:10px;color:#333">M5</div><div class="t" style="left:947px;top:4px;font-size:10px;color:#333">M15</div><div class="t" style="left:975px;top:4px;font-size:10px;color:#333">M30</div><div class="t" style="left:1006px;top:4px;font-size:10px;color:#333">H1</div><div class="t" style="left:1033px;top:4px;font-size:10px;color:#333">H4</div><div class="t" style="left:1062px;top:4px;font-size:10px;color:#333">D1</div><div class="t" style="left:1089px;top:4px;font-size:10px;color:#333">W1</div><div class="t" style="left:1116px;top:4px;font-size:10px;color:#333">MN</div>
</body></html>
